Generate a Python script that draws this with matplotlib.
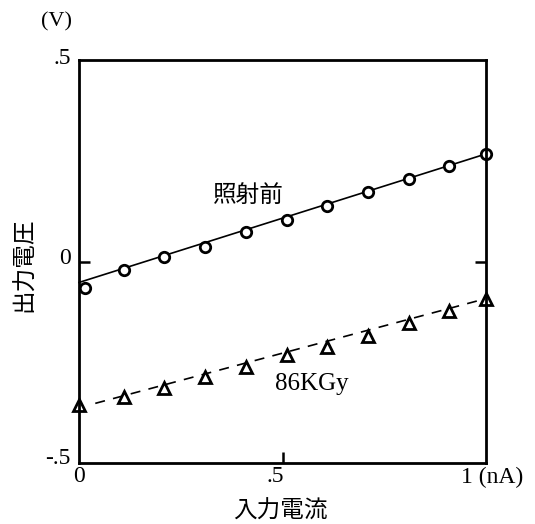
import matplotlib.pyplot as plt

# values
current = [0.015, 0.11, 0.21, 0.31, 0.41, 0.51, 0.61, 0.71, 0.81, 0.91, 1.0]
before = [-0.066, -0.021, 0.011, 0.036, 0.073, 0.103, 0.138, 0.172, 0.205, 0.237, 0.267]

current_86 = [0.0, 0.11, 0.21, 0.31, 0.41, 0.51, 0.61, 0.71, 0.81, 0.91, 1.0]
after_86 = [-0.356, -0.336, -0.314, -0.287, -0.261, -0.232, -0.212, -0.185, -0.152, -0.123, -0.093]

# fitted straight lines (end points)
fit_before_x = [0.0, 1.0]
fit_before_y = [-0.052, 0.267]
fit_86_x = [0.04, 1.0]
fit_86_y = [-0.352, -0.092]

serif = ['Liberation Serif', 'DejaVu Serif']
jp = ['Noto Sans CJK JP', 'DejaVu Sans']

W, H = 535, 524
fig = plt.figure(figsize=(W / 100, H / 100), dpi=100)
ax = fig.add_axes([79 / W, 1 - 463 / H, 407 / W, 403 / H])

ax.plot(fit_before_x, fit_before_y, color='black', lw=1.2, clip_on=False)
ax.plot(fit_86_x, fit_86_y, color='black', lw=1.2, ls=(0, (6, 5)), clip_on=False)
ax.plot(current, before, 'o', ms=7.5, mfc='white', mec='black', mew=2, clip_on=False)
ax.plot(current_86, after_86, '^', ms=9, mfc='white', mec='black', mew=2, clip_on=False)

ax.set_xlim(0, 1)
ax.set_ylim(-0.5, 0.5)
for s in ax.spines.values():
    s.set_linewidth(2)

ax.set_xticks([0.5])
ax.set_xticklabels([])
ax.set_yticks([0])
ax.set_yticklabels([])
ax.tick_params(direction='in', length=8, width=1.8, right=True)

# tick labels, placed by hand to follow the original layout
def ftext(px, py, s, **kw):
    fig.text(px / W, 1 - py / H, s, **kw)

ftext(71, 58, '.5', ha='right', va='center', fontsize=17, family=serif)
ftext(71, 258, '0', ha='right', va='center', fontsize=17, family=serif)
ftext(71, 459, '-.5', ha='right', va='center', fontsize=17, family=serif)
ftext(79, 477, '0', ha='center', va='center', fontsize=17, family=serif)
ftext(275, 477, '.5', ha='center', va='center', fontsize=17, family=serif)
ftext(461, 477, '1 (nA)', ha='left', va='center', fontsize=17, family=serif)
ftext(57, 22, '(V)', ha='center', va='center', fontsize=16, family=serif)

ftext(280, 511, '入力電流', ha='center', va='center', fontsize=17, family=jp)
ftext(25, 265, '出力電圧', ha='center', va='center', rotation=90, fontsize=17, family=jp)

ftext(248, 195, '照射前', ha='center', va='center', fontsize=17, family=jp)
ftext(312, 384, '86KGy', ha='center', va='center', fontsize=18, family=serif)

fig.savefig('out.png', dpi=100)
